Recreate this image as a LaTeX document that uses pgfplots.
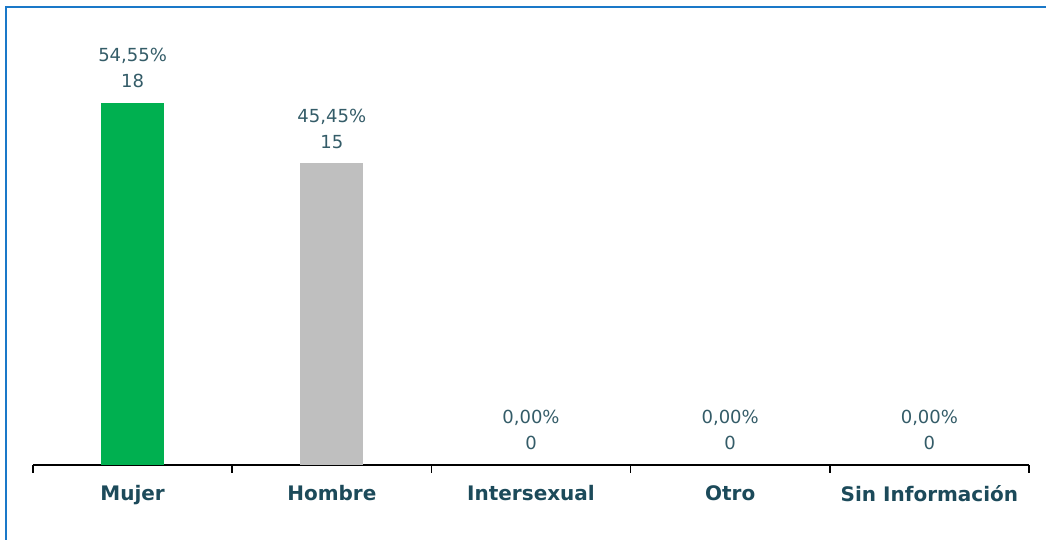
\documentclass[border=0pt]{standalone}
\usepackage{fontspec}
\setmainfont{DejaVu Sans}
\usepackage{pgfplots}
\pgfplotsset{compat=1.18}
\definecolor{frameblue}{RGB}{26,120,200}
\definecolor{lblcol}{RGB}{52,92,104}
\definecolor{catcol}{RGB}{28,74,90}
\definecolor{bargreen}{RGB}{0,176,80}
\definecolor{bargray}{RGB}{191,191,191}
\begin{document}
\begin{tikzpicture}
\useasboundingbox (0pt,0pt) rectangle (1046pt,540pt);
\draw[frameblue, line width=2.5pt] (6pt,0pt) -- (6pt,533pt) -- (1046pt,533pt);
\begin{axis}[
  at={(33pt,75pt)}, anchor=south west,
  scale only axis, width=996pt, height=402pt,
  xmin=-0.5, xmax=4.5, ymin=0, ymax=20,
  axis y line=none, axis x line*=bottom,
  x axis line style={black, line width=1.5pt, -},
  xtick={0,1,2,3,4},
  xticklabels={Mujer,Hombre,Intersexual,Otro,Sin Información},
  major tick length=0pt,
  xticklabel style={font=\bfseries\fontsize{20}{24}\selectfont, text=catcol, yshift=-17pt},
  extra x ticks={-0.5,0.5,1.5,2.5,3.5,4.5},
  extra x tick labels={},
  extra x tick style={major tick length=8pt, tick align=outside, tick style={black, line width=1.5pt}},
  ybar, bar width=63pt, bar shift=0pt,
  clip=false,
  point meta=explicit symbolic,
  nodes near coords,
  nodes near coords style={align=center, font=\fontsize{18}{26}\selectfont, text=lblcol, anchor=south, inner sep=0pt, yshift=15pt},
]
\addplot[fill=bargreen, draw=none] coordinates {(0,18) [{54,55\%\\18}]};
\addplot[fill=bargray, draw=none] coordinates {(1,15) [{45,45\%\\15}]};
\addplot[draw=none, fill=none] coordinates {(2,0) [{0,00\%\\0}] (3,0) [{0,00\%\\0}] (4,0) [{0,00\%\\0}]};
\end{axis}
\end{tikzpicture}
\end{document}
